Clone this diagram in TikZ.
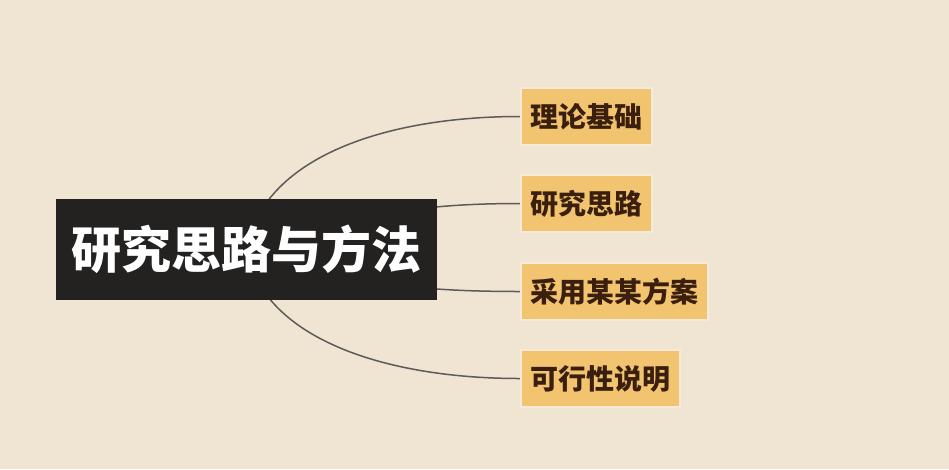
\documentclass[tikz,border=0pt]{standalone}
\usepackage{fontspec}
\newfontfamily\cjk{Noto Sans CJK SC}
\usetikzlibrary{backgrounds}
\definecolor{paper}{RGB}{240,228,210}
\definecolor{hubfill}{RGB}{35,34,33}
\definecolor{leaffill}{RGB}{242,196,112}
\definecolor{leafline}{RGB}{248,234,218}
\definecolor{leaftext}{RGB}{59,31,14}
\definecolor{wire}{RGB}{91,91,91}
\tikzset{
  hub/.style={fill=hubfill,text=white,font=\cjk\bfseries\fontsize{50}{50}\selectfont,
    minimum width=381pt,minimum height=101pt,inner sep=0pt},
  leaf/.style={fill=leaffill,draw=leafline,line width=2pt,text=leaftext,anchor=west,
    font=\cjk\bfseries\fontsize{28}{28}\selectfont,inner xsep=9.5pt,inner ysep=0pt,minimum height=57pt},
  wire/.style={draw=wire,line width=1.5pt}
}
\begin{document}
\begin{tikzpicture}[x=1pt,y=-1pt]
  \useasboundingbox (0,0) rectangle (949,469);
  \node[hub] (hub) at (246.5,249.5) {研究思路与方法};
  % branches
  \node[leaf] (basis) at (520,116.5) {理论基础};
  \node[leaf] (idea)  at (520,203.5) {研究思路};
  \node[leaf] (plan)  at (520,291.5) {采用某某方案};
  \node[leaf] (proof) at (520,378.5) {可行性说明};
  \begin{scope}[on background layer]
    \fill[paper] (0,0) rectangle (949,469);
    \draw[wire] (hub.center) .. controls (262,160) and (380,116.5) .. (basis.west);
    \draw[wire] (hub.center) .. controls (350,215) and (420,203.5) .. (idea.west);
    \draw[wire] (hub.center) .. controls (350,284) and (420,291.5) .. (plan.west);
    \draw[wire] (hub.center) .. controls (262,336) and (380,378.5) .. (proof.west);
  \end{scope}
\end{tikzpicture}
\end{document}
